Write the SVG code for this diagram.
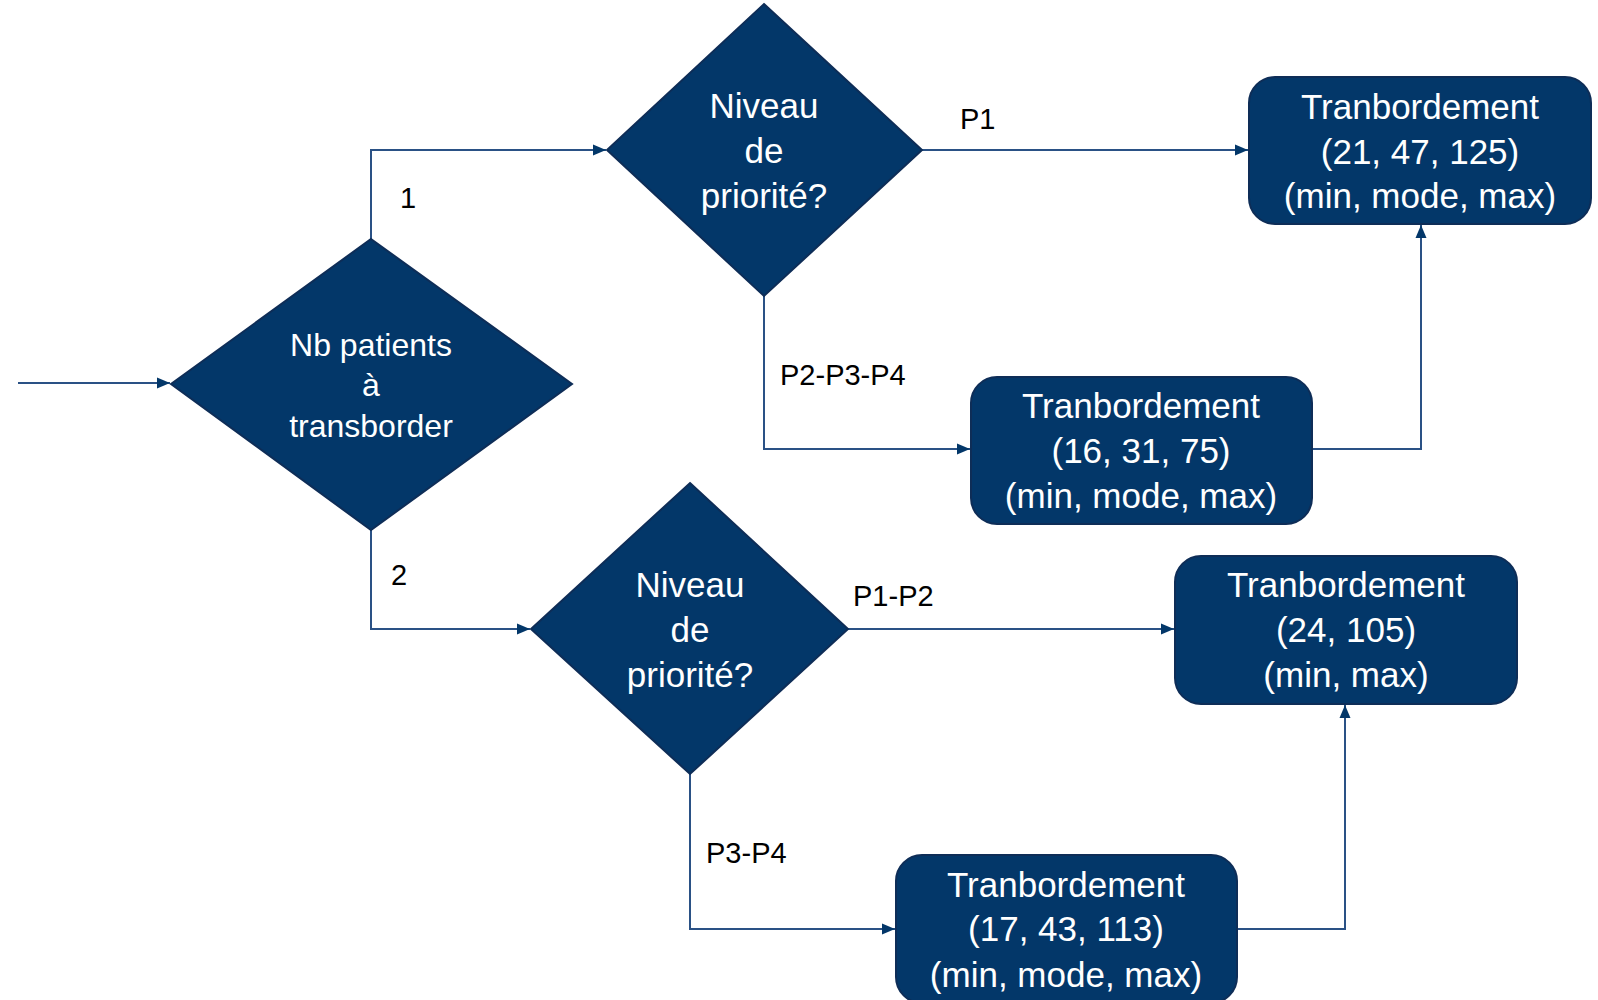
<svg xmlns="http://www.w3.org/2000/svg" width="1598" height="1000" viewBox="0 0 1598 1000">
<defs>
<style>
.node{fill:#033769;stroke:#0e2d57;stroke-width:2}
.nt{fill:#ffffff;font-family:"Liberation Sans",Arial,sans-serif;font-size:35px;text-anchor:middle}
.mt{font-size:32px}
.conn{fill:none;stroke:#2a5185;stroke-width:2}
.lbl{fill:#000000;font-family:"Liberation Sans",Arial,sans-serif;font-size:29px}
</style>
<marker id="arr" markerUnits="userSpaceOnUse" markerWidth="16" markerHeight="16" viewBox="0 0 16 16" refX="15" refY="8" orient="auto">
<path d="M2,2.5 L15,8 L2,13.5 Z" fill="#033769"/>
</marker>
</defs>
<rect width="1598" height="1000" fill="#ffffff"/>
<g id="connectors">
<path class="conn" d="M18 383 H170" marker-end="url(#arr)"/>
<path class="conn" d="M371 239 V150 H606" marker-end="url(#arr)"/>
<path class="conn" d="M922 150 H1248" marker-end="url(#arr)"/>
<path class="conn" d="M764 296 V449 H970" marker-end="url(#arr)"/>
<path class="conn" d="M1312 449 H1421 V225" marker-end="url(#arr)"/>
<path class="conn" d="M371 530 V629 H530" marker-end="url(#arr)"/>
<path class="conn" d="M848 629 H1174" marker-end="url(#arr)"/>
<path class="conn" d="M690 774 V929 H895" marker-end="url(#arr)"/>
<path class="conn" d="M1237 929 H1345 V705" marker-end="url(#arr)"/>
<text class="lbl" x="400" y="208">1</text>
<text class="lbl" x="391" y="585">2</text>
<text class="lbl" x="960" y="129">P1</text>
<text class="lbl" x="780" y="385">P2-P3-P4</text>
<text class="lbl" x="853" y="606">P1-P2</text>
<text class="lbl" x="706" y="863">P3-P4</text>
</g>
<g id="decision-nb-patients">
<polygon class="node" points="371,239 572,384 371,530 171,384"/>
<text class="nt mt" x="371" y="356">Nb patients</text>
<text class="nt mt" x="371" y="396">à</text>
<text class="nt mt" x="371" y="437">transborder</text>
</g>
<g id="decision-priorite-1">
<polygon class="node" points="764,4 922,150 764,296 607,150"/>
<text class="nt" x="764" y="118">Niveau</text>
<text class="nt" x="764" y="163">de</text>
<text class="nt" x="764" y="208">priorité?</text>
</g>
<g id="decision-priorite-2">
<polygon class="node" points="690,483 848,629 690,774 531,629"/>
<text class="nt" x="690" y="597">Niveau</text>
<text class="nt" x="690" y="642">de</text>
<text class="nt" x="690" y="687">priorité?</text>
</g>
<g id="box-21-47-125">
<rect class="node" x="1249" y="77" width="342" height="147" rx="26"/>
<text class="nt" x="1420" y="119">Tranbordement</text>
<text class="nt" x="1420" y="164">(21, 47, 125)</text>
<text class="nt" x="1420" y="208">(min, mode, max)</text>
</g>
<g id="box-16-31-75">
<rect class="node" x="971" y="377" width="341" height="147" rx="26"/>
<text class="nt" x="1141" y="418">Tranbordement</text>
<text class="nt" x="1141" y="463">(16, 31, 75)</text>
<text class="nt" x="1141" y="508">(min, mode, max)</text>
</g>
<g id="box-24-105">
<rect class="node" x="1175" y="556" width="342" height="148" rx="26"/>
<text class="nt" x="1346" y="597">Tranbordement</text>
<text class="nt" x="1346" y="642">(24, 105)</text>
<text class="nt" x="1346" y="687">(min, max)</text>
</g>
<g id="box-17-43-113">
<rect class="node" x="896" y="855" width="341" height="148" rx="26"/>
<text class="nt" x="1066" y="897">Tranbordement</text>
<text class="nt" x="1066" y="941">(17, 43, 113)</text>
<text class="nt" x="1066" y="987">(min, mode, max)</text>
</g>
</svg>
